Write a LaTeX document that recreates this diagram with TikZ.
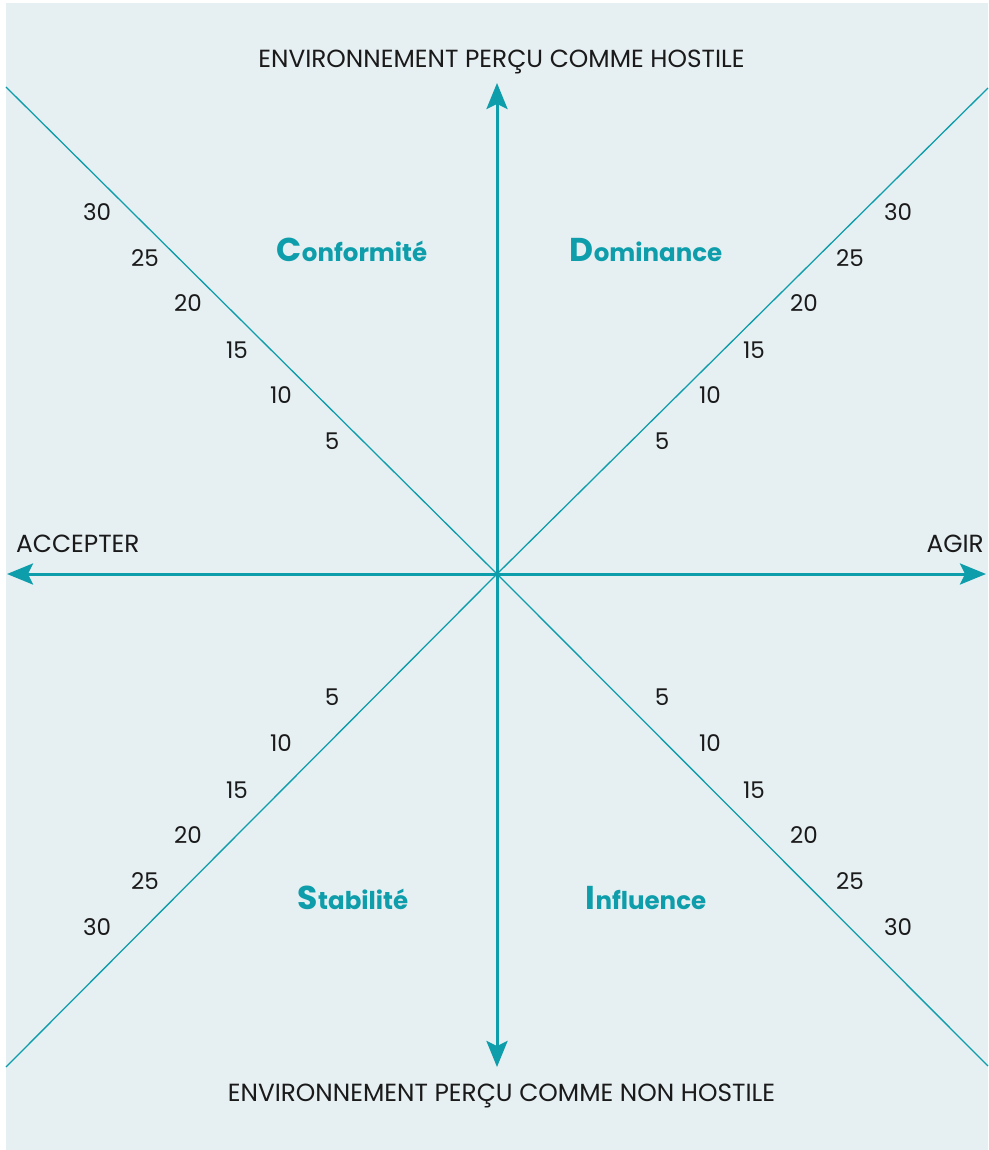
\documentclass[tikz,border=0pt]{standalone}
\usepackage{fontspec}
\setmainfont{Poppins}
\usetikzlibrary{arrows.meta}
\definecolor{teal}{HTML}{0E9DAA}
\definecolor{paper}{HTML}{E6EFF2}
\definecolor{ink}{HTML}{1A1A1A}
\tikzset{
  axis/.style={draw=teal, line width=3pt,
    arrows={Stealth[length=26pt, width=21pt, inset=5pt]-Stealth[length=26pt, width=21pt, inset=5pt]}},
  diag/.style={draw=teal, line width=1.3pt},
  caption/.style={text=ink, font=\fontsize{24.8}{24.8}\selectfont, inner sep=0pt},
  tick/.style={text=ink, font=\fontsize{23}{23}\selectfont, inner sep=0pt},
  quadrant/.style={text=teal, font=\fontsize{24.5}{24.5}\selectfont\bfseries, inner sep=0pt},
}
\newcommand{\qname}[2]{{\fontsize{33}{33}\selectfont #1}#2}
\begin{document}
\begin{tikzpicture}[x=1pt, y=-1pt]
  \useasboundingbox (0,0) rectangle (988,1150);
  \fill[white] (0,0) rectangle (988,1150);
  \fill[paper] (6,3) rectangle (988,1150);

  % centre and ends of the axes
  \coordinate (O) at (497,574);
  \coordinate (n) at (497,83);
  \coordinate (s) at (497,1067);
  \coordinate (w) at (7,574);
  \coordinate (e) at (986,574);
  \coordinate (nw) at (6,87);
  \coordinate (ne) at (988,88);
  \coordinate (sw) at (6,1067);
  \coordinate (se) at (988,1066);

  % diagonals
  \draw[diag] (nw) -- (O) -- (se);
  \draw[diag] (ne) -- (O) -- (sw);

  % main axes
  \draw[axis] (s) -- (n);
  \draw[axis] (w) -- (e);

  % axis captions
  \node[caption] (top) at (501.5,62) {ENVIRONNEMENT PERÇU COMME HOSTILE};
  \node[caption] (bottom) at (501.5,1096) {ENVIRONNEMENT PERÇU COMME NON HOSTILE};
  \node[caption, anchor=west] (accept) at (16,544) {ACCEPTER};
  \node[caption, anchor=east] (act) at (984,544) {AGIR};

  % quadrant names
  \node[quadrant] (conf) at (352,250) {\qname{C}{onformité}};
  \node[quadrant] (dom) at (646,250) {\qname{D}{ominance}};
  \node[quadrant] (stab) at (353,898) {\qname{S}{tabilité}};
  \node[quadrant] (infl) at (646,898) {\qname{I}{nfluence}};

  % scale values along the diagonals
  \foreach \v/\xl/\xr/\yu/\yd [count=\i] in
      {30/97/898/212/927, 25/145/850/258/881, 20/188/804/303/835,
       15/237/754/350/790, 10/281/710/395/743, 5/332/662/441/697} {
    \node[tick] (ul\i) at (\xl,\yu) {\v};
    \node[tick] (ur\i) at (\xr,\yu) {\v};
    \node[tick] (ll\i) at (\xl,\yd) {\v};
    \node[tick] (lr\i) at (\xr,\yd) {\v};
  }
\end{tikzpicture}
\end{document}
